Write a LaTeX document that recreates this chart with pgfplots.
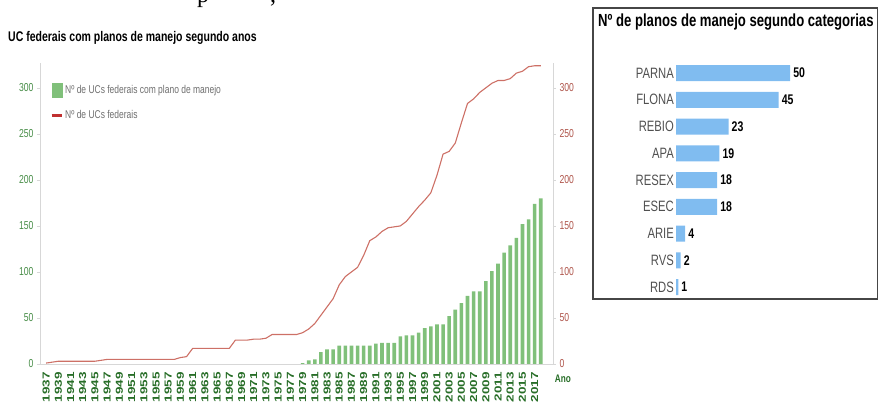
\documentclass[border=0pt]{standalone}
\usepackage{fontspec}
\setmainfont{Liberation Sans}[FakeStretch=0.75]
\newfontfamily\wfont{Liberation Sans}
\newfontfamily\seriffont{Liberation Serif}
\usepackage{pgfplots}
\usepackage{pgfplotstable}
\pgfplotsset{compat=1.18}
\definecolor{barg}{RGB}{128,192,122}
\definecolor{lred}{RGB}{205,112,102}
\definecolor{legred}{RGB}{192,48,48}
\definecolor{gtick}{RGB}{70,140,70}
\definecolor{xgreen}{RGB}{40,110,40}
\definecolor{rtick}{RGB}{175,85,75}
\definecolor{axgray}{RGB}{215,215,215}
\definecolor{bblue}{RGB}{128,188,240}
\definecolor{boxgray}{RGB}{70,70,70}
\definecolor{lgtxt}{RGB}{110,110,110}
\definecolor{cattxt}{RGB}{80,80,80}

\pgfplotstableread{
year val
1979 1
1980 4
1981 5
1982 13
1983 16
1984 16
1985 20
1986 20
1987 20
1988 20
1989 20
1990 20
1991 22
1992 23
1993 23
1994 23
1995 30
1996 31
1997 31
1998 34
1999 39
2000 41
2001 43
2002 43
2003 52
2004 59
2005 66
2006 74
2007 79
2008 79
2009 90
2010 101
2011 109
2012 121
2013 129
2014 137
2015 152
2016 157
2017 174
2018 180
}\plans

\pgfplotstableread{
year n
1937 1
1938 2
1939 3
1940 3
1941 3
1942 3
1943 3
1944 3
1945 3
1946 4
1947 5
1948 5
1949 5
1950 5
1951 5
1952 5
1953 5
1954 5
1955 5
1956 5
1957 5
1958 5
1959 7
1960 8
1961 17
1962 17
1963 17
1964 17
1965 17
1966 17
1967 17
1968 26
1969 26
1970 26
1971 27
1972 27
1973 28
1974 32
1975 32
1976 32
1977 32
1978 32
1979 34
1980 38
1981 44
1982 53
1983 62
1984 71
1985 86
1986 95
1987 100
1988 105
1989 118
1990 134
1991 138
1992 144
1993 148
1994 149
1995 150
1996 155
1997 163
1998 171
1999 178
2000 186
2001 205
2002 228
2003 231
2004 240
2005 262
2006 283
2007 288
2008 295
2009 300
2010 305
2011 308
2012 308
2013 310
2014 316
2015 318
2016 323
2017 324
2018 324
}\ucs

\pgfplotstableread{
cat val
0 1
1 2
2 4
3 18
4 18
5 19
6 23
7 45
8 50
}\cats

\begin{document}
\begin{tikzpicture}[x=1pt,y=1pt]
\useasboundingbox (0,0) rectangle (878,406);

% fragments of a cut text line at the top edge
\node[anchor=base west, inner sep=0pt, font=\seriffont\fontsize{24}{24}\selectfont] at (197,403) {p};
\node[anchor=base west, inner sep=0pt, font=\seriffont\fontsize{24}{24}\selectfont] at (270,403) {,};

% left title
\node[anchor=base west, inner sep=0pt, font=\bfseries\fontsize{14}{16}\selectfont] at (8,364) {UC federais com planos de manejo segundo anos};

\begin{axis}[
  at={(40pt,42pt)}, anchor=south west, scale only axis,
  width=513pt, height=301pt,
  xmin=1936, xmax=2020, ymin=0, ymax=327,
  axis x line*=bottom, axis y line*=left,
  axis line style={draw=axgray, line width=0.8pt},
  xtick={1937,1939,...,2017},
  xticklabel={\scalebox{1}[0.75]{\wfont\bfseries\fontsize{13.5}{14}\selectfont\pgfmathprintnumber[1000 sep={}]{\tick}}},
  xticklabel style={rotate=90, anchor=east, text=xgreen, inner sep=0pt},
  xticklabel shift=5pt,
  x tick style={draw=none},
  ytick={0,50,...,300},
  yticklabel style={text=gtick, font=\fontsize{11.5}{12}\selectfont},
  y tick style={draw=axgray},
  major tick length=3pt,
  tick align=outside,
  /pgf/number format/assume math mode=true,
  ybar, bar width=3.6pt,
]
\addplot[fill=barg, draw=none] table[x=year, y=val] {\plans};
\end{axis}

\begin{axis}[
  at={(40pt,42pt)}, anchor=south west, scale only axis,
  width=513pt, height=301pt,
  xmin=1936, xmax=2020, ymin=0, ymax=327,
  axis x line=none, axis y line*=right,
  axis line style={draw=axgray, line width=0.8pt},
  ytick={0,50,...,300},
  yticklabel style={text=rtick, font=\fontsize{11.5}{12}\selectfont},
  y tick style={draw=axgray},
  major tick length=3pt,
  tick align=outside,
  /pgf/number format/assume math mode=true,
  legend style={at={(axis description cs:0,1)}, anchor=north west, xshift=10pt, yshift=-20pt,
    draw=none, fill=none, inner sep=0pt, row sep=11pt,
    font=\fontsize{11.3}{12}\selectfont, text=lgtxt},
  legend cell align=left,
]
\addlegendimage{legend image code/.code={\fill[barg] (0pt,-7pt) rectangle (10pt,7pt);}}
\addlegendentry{Nº de UCs federais com plano de manejo}
\addlegendimage{legend image code/.code={\draw[legred, line width=3pt] (0pt,0pt) -- (10pt,0pt);}}
\addlegendentry{Nº de UCs federais}
\addplot[lred, line width=1.1pt, forget plot] table[x=year, y=n] {\ucs};
\end{axis}

\node[anchor=center, inner sep=0pt, text=xgreen, font=\bfseries\fontsize{11}{12}\selectfont] at (563,27) {Ano};

% right panel
\draw[boxgray, line width=1.3pt] (593,107) rectangle (877.3,398);
\node[anchor=base west, inner sep=0pt, font=\bfseries\fontsize{17.5}{18}\selectfont] at (598,379) {Nº de planos de manejo segundo categorias};

\begin{axis}[
  at={(676pt,105.6pt)}, anchor=south west, scale only axis,
  width=194pt, height=240.75pt,
  xmin=0, xmax=85, ymin=-0.5, ymax=8.5,
  axis x line=none, axis y line*=left,
  y axis line style={draw=none},
  ytick={0,...,8},
  yticklabels={RDS,RVS,ARIE,ESEC,RESEX,APA,REBIO,FLONA,PARNA},
  major tick length=0pt,
  yticklabel style={text=cattxt, font=\fontsize{15}{16}\selectfont, inner sep=2pt},
  /pgf/number format/assume math mode=true,
  xbar, bar width=16pt,
  nodes near coords,
  nodes near coords style={font=\bfseries\fontsize{14}{15}\selectfont, text=black, anchor=west, inner sep=0pt, xshift=3pt},
  clip=false,
]
\addplot[fill=bblue, draw=none] table[x=val, y=cat] {\cats};
\end{axis}
\end{tikzpicture}
\end{document}
